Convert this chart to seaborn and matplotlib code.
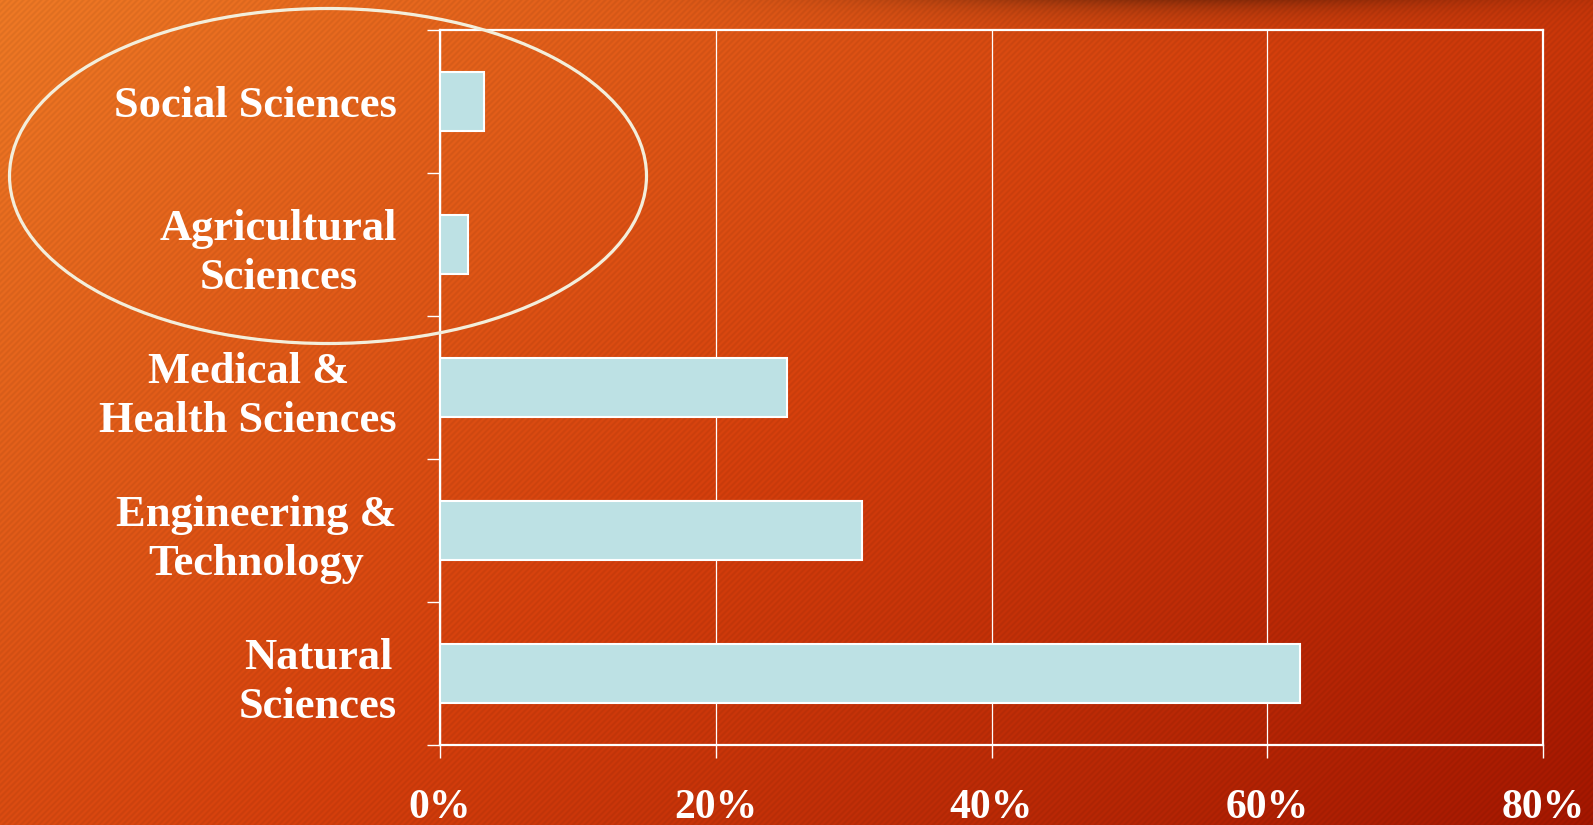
import numpy as np
import matplotlib
matplotlib.use("Agg")
import matplotlib.pyplot as plt
from matplotlib.patches import Ellipse
import seaborn as sns

# -----------------------------
# Data
# -----------------------------
fields = [
    "Social Sciences",
    "Agricultural\nSciences",
    "Medical &\nHealth Sciences",
    "Engineering &\nTechnology",
    "Natural\nSciences",
]
share = [3.2, 2.0, 25.2, 30.6, 62.4]
x_ticks = [0, 20, 40, 60, 80]
x_labels = ["0%", "20%", "40%", "60%", "80%"]

bar_color = "#bde1e4"
W, H = 1593, 825

sns.set_style("white")
plt.rcParams["font.family"] = ["Liberation Serif", "DejaVu Serif"]

fig = plt.figure(figsize=(W / 100, H / 100), dpi=100)

# -----------------------------
# Background: diagonal orange -> red gradient with fine stripes
# -----------------------------
yy, xx = np.mgrid[0:H, 0:W].astype(float)
s = xx / W * 0.6 + yy / H * 0.4
c0 = np.array([232, 118, 36]) / 255
c1 = np.array([208, 62, 12]) / 255
c2 = np.array([160, 22, 0]) / 255
t1 = np.clip(s / 0.5, 0, 1)[..., None]
t2 = np.clip((s - 0.5) / 0.5, 0, 1)[..., None]
img = np.where(s[..., None] < 0.5, c0 + (c1 - c0) * t1, c1 + (c2 - c1) * t2)
# shadow along the top edge
shade = 0.35 * np.exp(-yy / 14) * np.exp(-((xx - 1200) / 320) ** 2)
img = img * (1 - shade)[..., None]
# fine diagonal stripes
img = img * (1 + 0.035 * np.sin(2 * np.pi * (xx + yy) / 6))[..., None]
img = np.clip(img, 0, 1)

ax_bg = fig.add_axes([0, 0, 1, 1], zorder=-1)
ax_bg.imshow(img, extent=[0, 1, 0, 1], aspect="auto", interpolation="bilinear")
ax_bg.axis("off")

# -----------------------------
# Bar chart
# -----------------------------
ax = fig.add_axes([440 / W, 80 / H, 1103 / W, 715 / H])
ax.set_facecolor("none")

sns.barplot(x=share, y=fields, orient="h", color=bar_color, saturation=1,
            edgecolor="white", linewidth=1.5, width=0.41, ax=ax, zorder=3)

ax.set_xlim(0, 80)
ax.set_ylim(4.5, -0.5)
ax.set_xticks(x_ticks)
ax.set_xticklabels(x_labels)
ax.set_xlabel("")
ax.set_ylabel("")

ax.grid(axis="x", color="white", linewidth=0.9, zorder=0)
ax.grid(axis="y", visible=False)
ax.set_axisbelow(True)

for side in ["left", "right", "top", "bottom"]:
    ax.spines[side].set_visible(True)
    ax.spines[side].set_color("white")
    ax.spines[side].set_linewidth(1.6)

ax.set_yticks(np.arange(-0.5, 5, 1), minor=True)
ax.tick_params(axis="y", which="major", length=0, pad=31)
ax.tick_params(axis="y", which="minor", length=9.5, width=1, color="white",
               direction="out", left=True)
ax.tick_params(axis="x", which="major", length=9, width=1, color="white",
               direction="out", bottom=True, pad=23)

for lab in ax.get_yticklabels():
    lab.set_fontsize(32)
    lab.set_fontweight("bold")
    lab.set_color("white")
    lab.set_multialignment("center")
    lab.set_linespacing(1.3)
for lab in ax.get_xticklabels():
    lab.set_fontsize(30)
    lab.set_fontweight("bold")
    lab.set_color("white")

# highlight the two smallest fields
ell = Ellipse((328 / W, 1 - 176 / H), 637 / W, 335 / H,
              transform=fig.transFigure, fill=False,
              edgecolor="#f3eedb", linewidth=2.3, zorder=5)
fig.add_artist(ell)

plt.savefig("out.png", dpi=100)
